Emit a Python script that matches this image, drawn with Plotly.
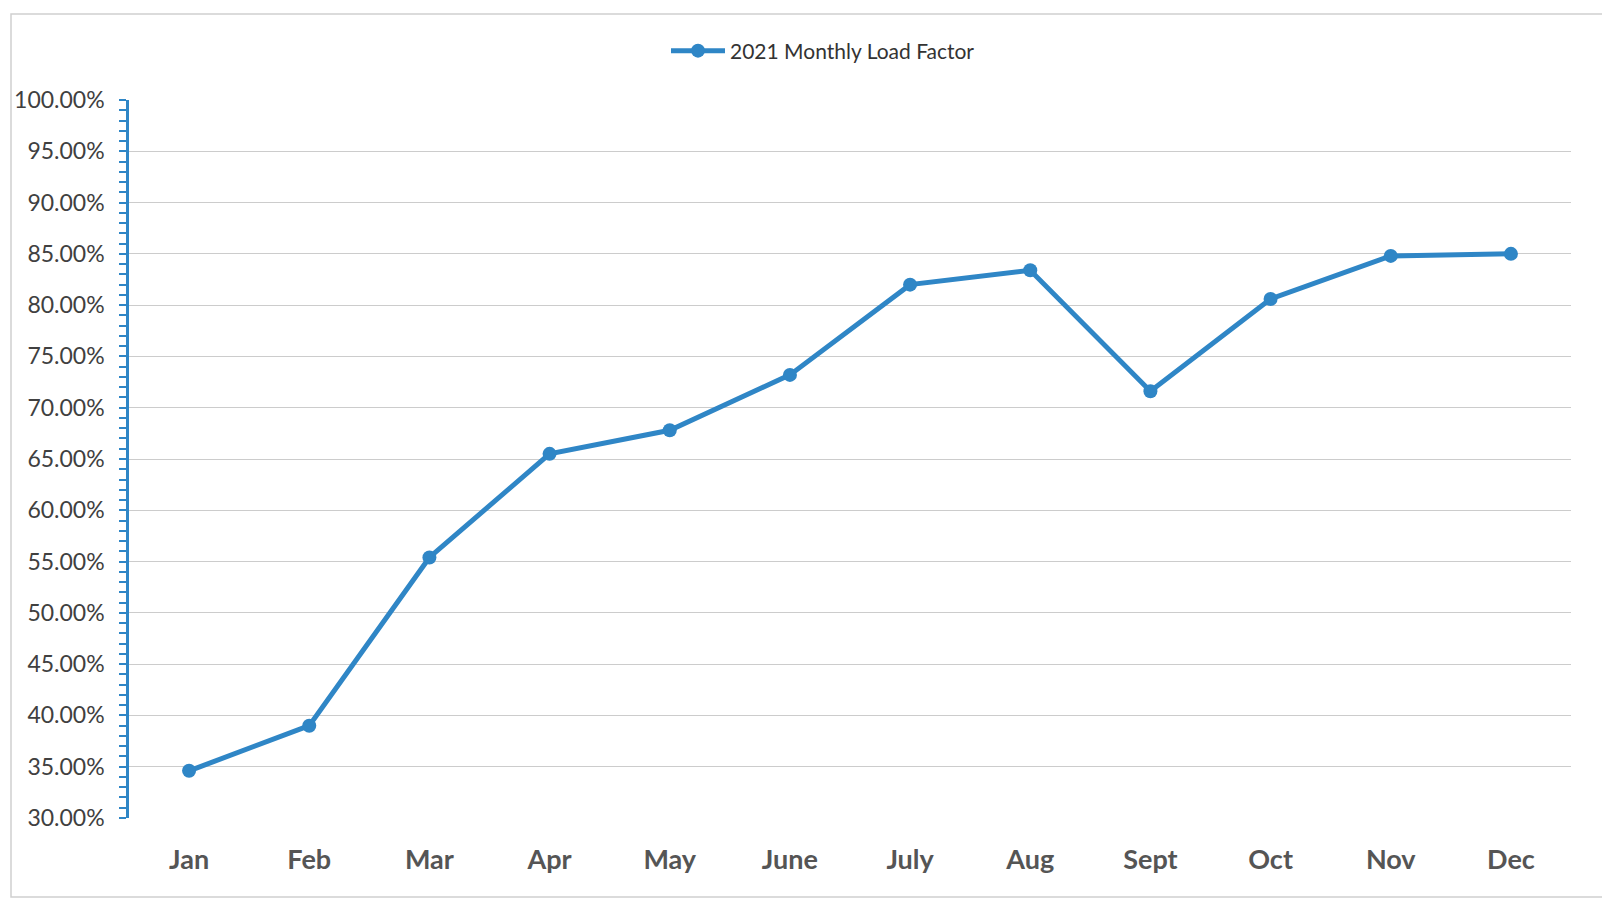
import plotly.graph_objects as go

months = ["Jan", "Feb", "Mar", "Apr", "May", "June", "July", "Aug", "Sept", "Oct", "Nov", "Dec"]
load_factor = [0.346, 0.390, 0.554, 0.655, 0.678, 0.732, 0.820, 0.834, 0.716, 0.806, 0.848, 0.850]
series_name = "2021 Monthly Load Factor"

BLUE = "#2f86c6"

fig = go.Figure()
fig.add_trace(go.Scatter(
    x=months, y=load_factor, mode="lines+markers", name=series_name,
    line=dict(color=BLUE, width=5),
    marker=dict(color=BLUE, size=14),
))

OFF = 8  # default page body margin
W, H = 1610 - OFF, 900 - OFF
# target plot area in page pixels: x 129..1571, y 100..818
ml, mr, mt, mb = 129 - OFF, 1610 - 1571, 100 - OFF, 900 - 818
pw, ph = W - ml - mr, H - mt - mb

def px(x):
    return (x - OFF - ml) / pw

def py(y):
    return (H - mb - (y - OFF)) / ph

fig.update_layout(
    width=W, height=H,
    margin=dict(l=ml, r=mr, t=mt, b=mb, autoexpand=False),
    paper_bgcolor="white", plot_bgcolor="white",
    font=dict(family="Lato, Open Sans, sans-serif", color="#404040"),
    showlegend=True,
    legend=dict(
        orientation="h", x=px(823), xanchor="center", y=py(51), yanchor="middle",
        font=dict(size=21, color="#333333"), itemwidth=54,
        bgcolor="rgba(0,0,0,0)",
    ),
    xaxis=dict(
        type="category", range=[-0.5, 11.5],
        showgrid=False, showline=False, ticks="", zeroline=False,
        tickfont=dict(size=27, color="#555555", family="Lato, Open Sans, sans-serif", weight="bold"),
        ticklabelstandoff=23, automargin=False,
    ),
    yaxis=dict(
        range=[0.30, 1.00], dtick=0.05, tick0=0.30, tickformat=".2%",
        showgrid=True, gridcolor="#cccccc", gridwidth=1,
        showline=True, linecolor=BLUE, linewidth=2.5,
        ticks="outside", ticklen=7, tickwidth=2, tickcolor=BLUE,
        minor=dict(dtick=0.01, ticks="outside", ticklen=7, tickwidth=2, tickcolor=BLUE, showgrid=False),
        tickfont=dict(size=23, color="#404040"),
        ticklabelstandoff=10, automargin=False,
        zeroline=False,
    ),
    shapes=[
        dict(type="rect", xref="paper", yref="paper",
             x0=px(11), x1=px(1606), y0=py(897), y1=py(14),
             line=dict(color="#d0d0d0", width=1.5), fillcolor="rgba(0,0,0,0)", layer="below"),
    ],
)

fig.write_html("out.html")
